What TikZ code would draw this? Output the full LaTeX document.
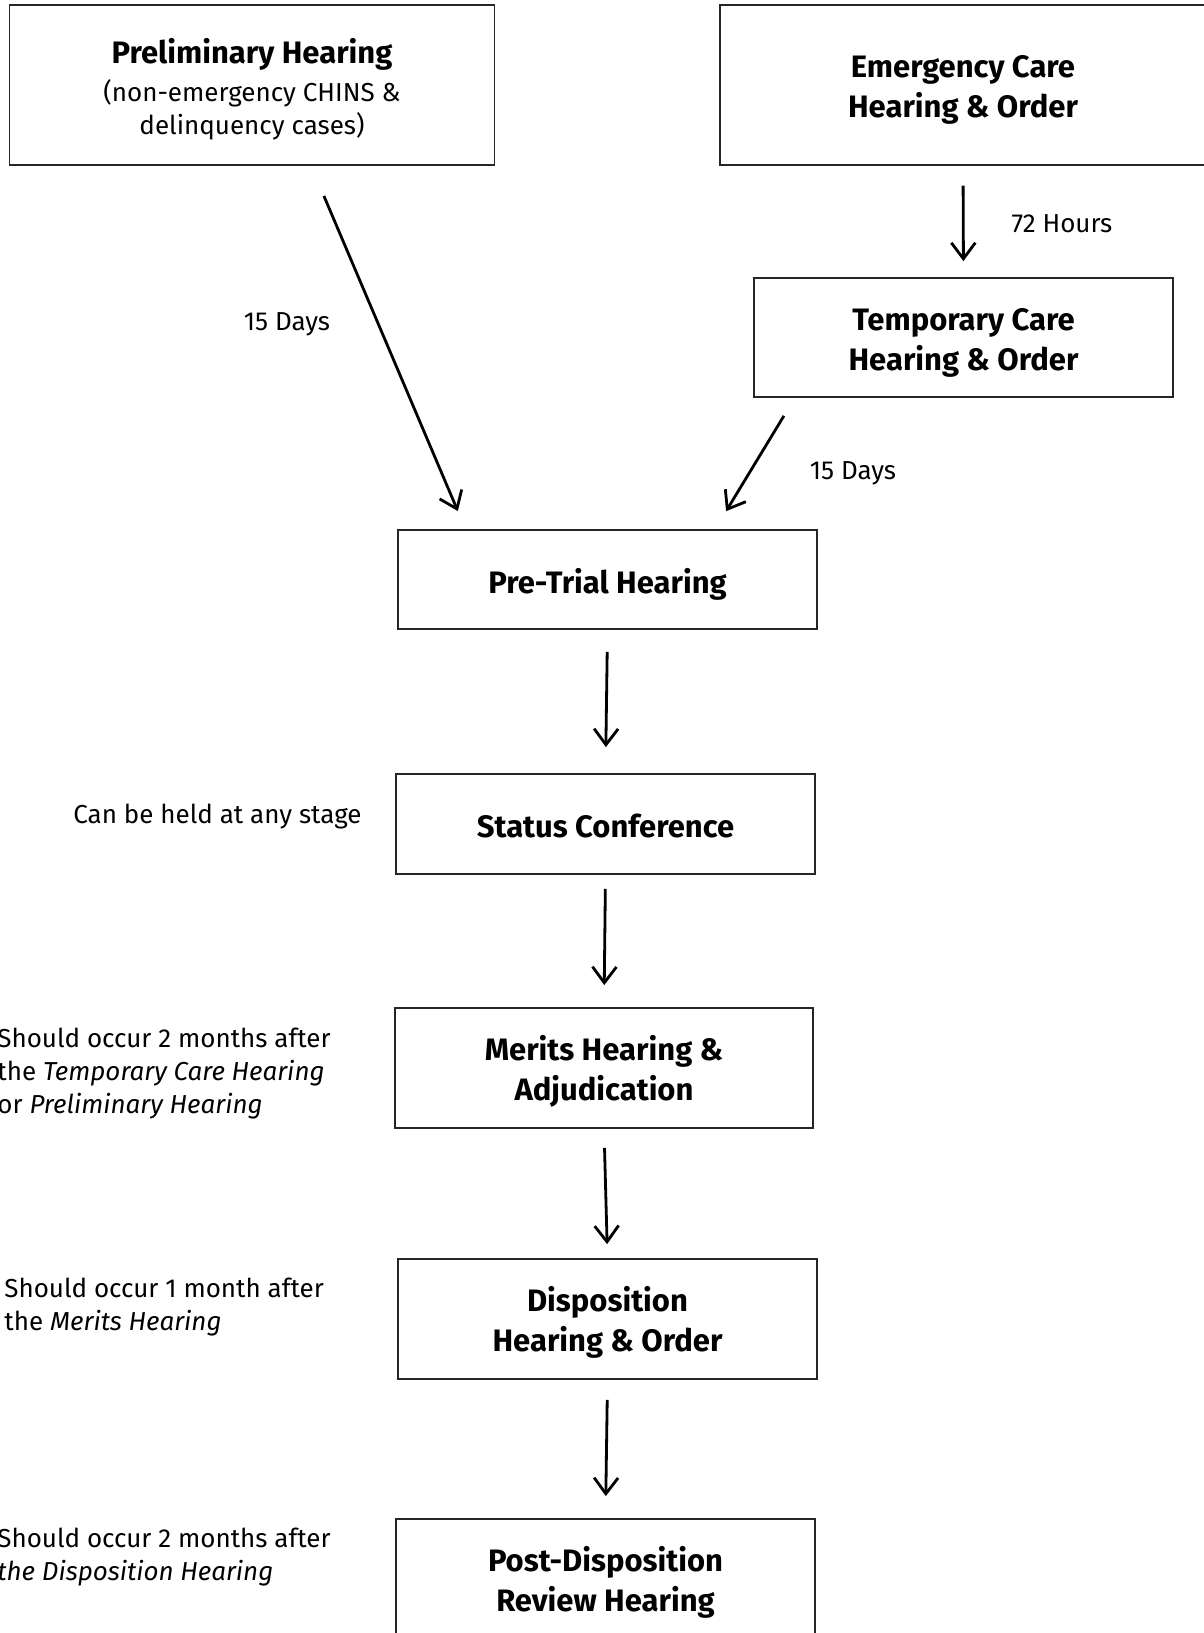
\documentclass[tikz,border=0pt]{standalone}
\usepackage{fontspec}
\setmainfont{Fira Sans}
\usetikzlibrary{arrows.meta, calc}

\newcommand\subfont{\fontsize{13}{16.5}\selectfont\mdseries}
\newcommand\topstrut{\rule{0pt}{16pt}}

\tikzset{
  stage/.style={draw=black!85, line width=0.9pt, align=center, inner sep=0pt,
                font=\fontsize{15.5}{20}\selectfont\bfseries},
  note/.style={align=left, inner sep=0pt, font=\fontsize{13}{16.5}\selectfont},
  arr/.style={-{Straight Barb[length=8pt,width=12pt]}, line width=1.4pt},
}

\begin{document}
\begin{tikzpicture}[x=0.5pt, y=-0.5pt]
    \useasboundingbox (0,0) rectangle (1204,1633);

    \node[stage, minimum width=242.5pt, minimum height=79.7pt] (prelim) at (252, 85)
        {\rule{0pt}{17pt}Preliminary Hearing\\[-1pt]\subfont (non-emergency CHINS \&\\[-3.6pt]\subfont delinquency cases)};
    \node[stage, minimum width=243pt, minimum height=79.7pt] (emerg) at (963, 85) {\topstrut Emergency Care\\Hearing \& Order};
    \node[stage, minimum width=209.5pt, minimum height=59.5pt] (temp) at (963.5, 337.5) {\topstrut Temporary Care\\Hearing \& Order};
    \node[stage, minimum width=209.5pt, minimum height=49.5pt] (pretrial) at (607.5, 579.5) {\rule{0pt}{17pt}Pre-Trial Hearing};
    \node[stage, minimum width=209.5pt, minimum height=50pt] (status) at (605.5, 824) {\rule{0pt}{14pt}Status Conference};
    \node[stage, minimum width=209pt, minimum height=60pt] (merits) at (604, 1068) {\topstrut Merits Hearing \&\\Adjudication};
    \node[stage, minimum width=209.5pt, minimum height=60pt] (disp) at (607.5, 1319) {\topstrut Disposition\\Hearing \& Order};
    \node[stage, minimum width=209.5pt, minimum height=60pt] (post) at (605.5, 1579) {\topstrut Post-Disposition\\Review Hearing};

    \node[note] (days1) at (287, 324.5) {15 Days};
    \node[note] (hours) at (1062, 224) {72 Hours};
    \node[note] (days2) at (853, 473.5) {15 Days};
    \node[note, anchor=west] (anystage) at (73, 817) {Can be held at any stage};
    \node[note, anchor=west] (meritsnote) at (-3, 1074)
        {Should occur 2 months after\\the \textit{Temporary Care Hearing}\\or \textit{Preliminary Hearing}};
    \node[note, anchor=west] (dispnote) at (4, 1307.5) {Should occur 1 month after\\the \textit{Merits Hearing}};
    \node[note, anchor=west] (postnote) at (-3, 1557.5) {Should occur 2 months after\\\textit{the Disposition Hearing}};

    \path[arr] ($(prelim.south)+(59,0)$) edge[shorten <=16.5pt, shorten >=9.8pt] ($(pretrial.north)+(-142,0)$)
          ($(temp.south)+(-168.7,0)$) edge[shorten <=10.5pt, shorten >=10.5pt] ($(pretrial.north)+(107.7,0)$)
          (emerg.south) edge[shorten <=10pt, shorten >=8pt] (temp.north)
          (pretrial.south) edge[shorten <=11pt, shorten >=13pt] (status.north)
          (status.south) edge[shorten <=7pt, shorten >=11pt] (merits.north)
          (merits.south) edge[shorten <=9.5pt, shorten >=7pt] (disp.north)
          (disp.south) edge[shorten <=10pt, shorten >=11pt] (post.north)
          ;
\end{tikzpicture}
\end{document}
